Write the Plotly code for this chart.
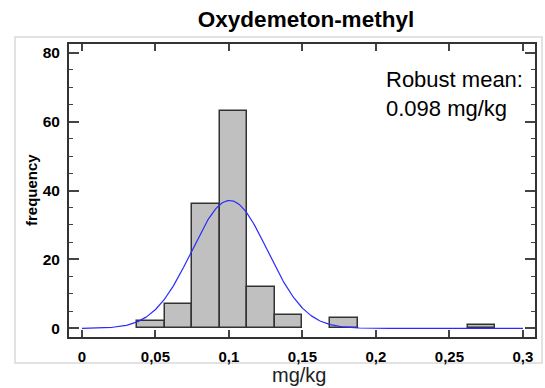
import numpy as np
import plotly.graph_objects as go

# ---- data ----
bin_width = 0.01875
bin_left = [0.0375, 0.05625, 0.075, 0.09375, 0.1125, 0.13125, 0.16875, 0.2625]
counts = [2, 7, 36, 63, 12, 4, 3, 1]

fit_mu = 0.1005      # centre of the fitted normal curve
fit_sigma = 0.0258   # spread of the fitted normal curve

x_tickvals = [0, 0.05, 0.1, 0.15, 0.2, 0.25, 0.3]
x_ticktext = ["0", "0,05", "0,1", "0,15", "0,2", "0,25", "0,3"]
y_tickvals = [0, 20, 40, 60, 80]

title_text = "Oxydemeton-methyl"
note_text = "Robust mean:<br>0.098 mg/kg"
x_title = "mg/kg"
y_title = "frequency"

# ---- fitted normal curve scaled to histogram counts ----
n_total = sum(counts)
xc = np.linspace(0, 0.3, 400)
yc = n_total * bin_width * np.exp(-0.5 * ((xc - fit_mu) / fit_sigma) ** 2) / (fit_sigma * np.sqrt(2 * np.pi))

FONT = "Liberation Sans, Arial, sans-serif"

fig = go.Figure()
fig.add_trace(go.Bar(
    x=bin_left, y=counts, width=bin_width, offset=0,
    marker=dict(color="#c0c0c0", line=dict(color="#333333", width=1.5)),
    hoverinfo="skip",
))
fig.add_trace(go.Scatter(
    x=xc, y=yc, mode="lines",
    line=dict(color="#2a2aff", width=1.2),
    hoverinfo="skip",
))

L, R, T, B = 69, 10, 44, 51
W, H = 545, 388
pw, ph = W - L - R, H - T - B

def px_x(p):
    return (p - L) / pw

def px_y(p):
    return (H - B - p) / ph

fig.update_layout(
    width=W, height=H,
    margin=dict(l=L, r=R, t=T, b=B, pad=0, autoexpand=False),
    paper_bgcolor="white", plot_bgcolor="white",
    showlegend=False,
    separators=", ",
    font=dict(family=FONT, color="black"),
    title=dict(text="<b>" + title_text + "</b>", x=px_x(306), xref="paper",
               xanchor="center", y=1 - 19 / H, yref="container", yanchor="middle",
               font=dict(size=22.5, family=FONT, color="black")),
    bargap=0,
)

fig.update_xaxes(
    range=[-0.0088, 0.3082],
    tickvals=x_tickvals, ticktext=x_ticktext,
    ticks="inside", ticklen=7, tickwidth=1.5, tickcolor="#444444",
    showline=True, linecolor="#333333", linewidth=2, mirror="ticks",
    showgrid=False, zeroline=False, automargin=False,
    tickfont=dict(size=15, family=FONT, color="black", weight="bold"),
    ticklabelstandoff=5,
)
fig.update_yaxes(
    range=[-2.5, 82.5],
    tickvals=y_tickvals,
    ticks="inside", ticklen=10, tickwidth=1.5, tickcolor="#444444",
    minor=dict(dtick=5, ticks="inside", ticklen=4, tickwidth=1.2, tickcolor="#444444"),
    showline=True, linecolor="#333333", linewidth=2, mirror="ticks",
    showgrid=False, zeroline=False, automargin=False,
    tickfont=dict(size=15.5, family=FONT, color="black", weight="bold"),
    ticklabelstandoff=4,
)

# outer light-grey frame
fig.add_shape(type="rect", xref="paper", yref="paper",
              x0=px_x(15), x1=px_x(542), y0=px_y(363), y1=px_y(37),
              line=dict(color="#d9d9d9", width=1.5), fillcolor="rgba(0,0,0,0)", layer="below")

fig.add_annotation(text=note_text, xref="paper", yref="paper",
                   x=px_x(384), y=px_y(65), xanchor="left", yanchor="top",
                   align="left", showarrow=False,
                   font=dict(size=22, family=FONT, color="black"))
fig.add_annotation(text=x_title, xref="paper", yref="paper",
                   x=px_x(299), y=px_y(375), xanchor="center", yanchor="middle",
                   showarrow=False, font=dict(size=20, family=FONT, color="#222222"))
fig.add_annotation(text="<b>" + y_title + "</b>", xref="paper", yref="paper",
                   x=px_x(31), y=px_y(190), xanchor="center", yanchor="middle",
                   textangle=-90, showarrow=False,
                   font=dict(size=15, family=FONT, color="black"))

fig.write_html("out.html", config={"displayModeBar": False},
               post_script="document.body.style.margin='0';document.body.style.overflow='hidden';")
